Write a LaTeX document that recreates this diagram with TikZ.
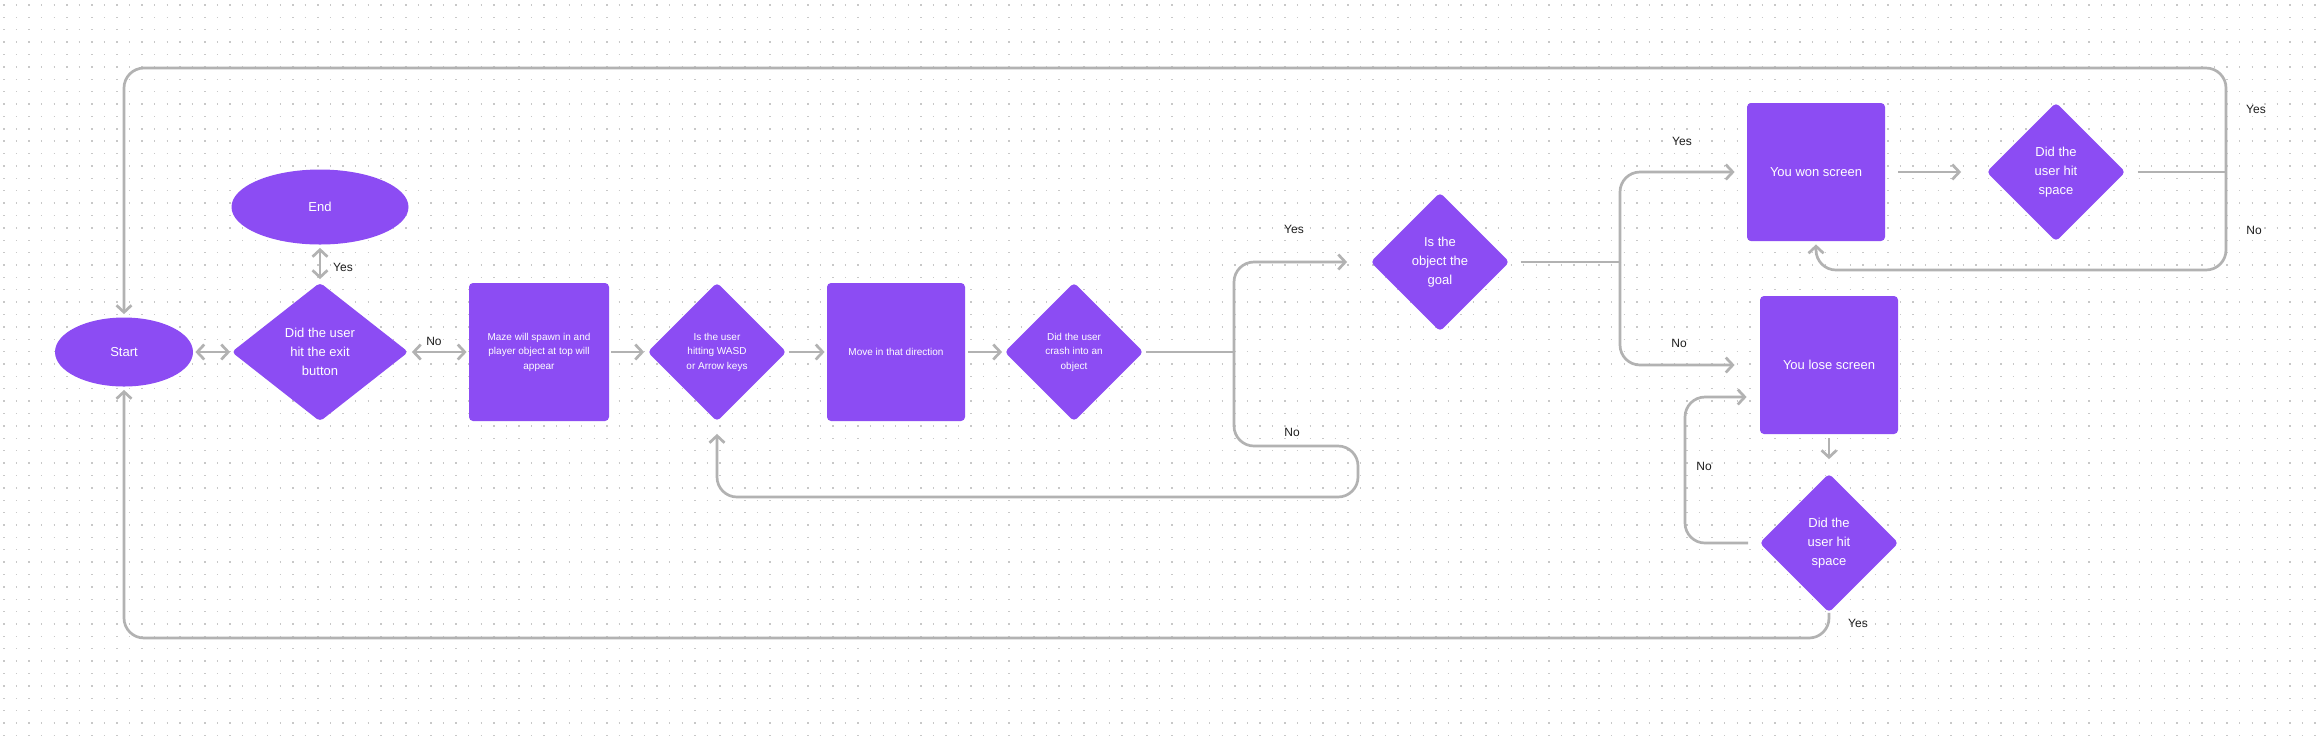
\documentclass[tikz,border=0pt]{standalone}
\usepackage{fontspec}
\setmainfont{Liberation Sans}
\usetikzlibrary{shapes.geometric, arrows.meta}

\definecolor{flowpurple}{RGB}{140,76,243}
\definecolor{flowline}{RGB}{178,178,178}
\definecolor{flowdot}{RGB}{200,200,200}
\definecolor{flowtext}{RGB}{30,30,30}

\begin{document}
\begin{tikzpicture}[x=0.5pt, y=-0.5pt,
        every node/.style={font=\fontsize{6.5}{9.5}\selectfont},
        shapebase/.style={fill=flowpurple, text=white, inner sep=0pt, align=center},
        terminal/.style={shapebase, ellipse},
        process/.style={shapebase, rectangle, rounded corners=2pt, minimum width=69pt, minimum height=69pt},
        decision/.style={shapebase, diamond, rounded corners=2pt, minimum width=69.5pt, minimum height=69.5pt},
        smalltext/.style={font=\fontsize{5}{7.2}\selectfont},
        link/.style={draw=flowline, line width=1.35pt},
        flowarrow/.style={link, -{Straight Barb[length=3.5pt, width=7.5pt]}},
        twoway/.style={link, {Straight Barb[length=3.5pt, width=7.5pt]}-{Straight Barb[length=3.5pt, width=7.5pt]}},
        answer/.style={text=flowtext, inner sep=0pt, font=\fontsize{6}{7}\selectfont}]
        \fill[white] (0, 0) rectangle (2323, 736);
        \useasboundingbox (0, 0) rectangle (2323, 736);
        % dotted canvas
        \foreach \r in {0, ..., 59}
            \draw[flowdot, line width=0.7pt, dash pattern=on 0.7pt off 5.58pt] (3.3, {5 + 12.38*\r}) -- (2323, {5 + 12.38*\r});

        \node[terminal, minimum width=69pt, minimum height=34.5pt] (start) at (124, 352) {Start};
        \node[terminal, minimum width=88.5pt, minimum height=37.5pt] (endn) at (320, 207) {End};
        \node[decision, minimum width=88.5pt] (exitq) at (320, 352) {Did the user\\hit the exit\\button};
        \node[process, smalltext, minimum width=70pt] (maze) at (539, 352) {Maze will spawn in and\\player object at top will\\appear};
        \node[decision, smalltext] (keysq) at (717, 352) {Is the user\\hitting WASD\\or Arrow keys};
        \node[process, smalltext] (move) at (896, 352) {Move in that direction};
        \node[decision, smalltext] (crashq) at (1074, 352) {Did the user\\crash into an\\object};
        \node[decision] (goalq) at (1440, 262) {Is the\\object the\\goal};
        \node[process] (won) at (1816, 172) {You won screen};
        \node[decision] (wonq) at (2056, 172) {Did the\\user hit\\space};
        \node[process] (lose) at (1829, 365) {You lose screen};
        \node[decision] (loseq) at (1829, 543) {Did the\\user hit\\space};

        \coordinate (crashsplit) at (1234, 352);
        \coordinate (crashno) at (1358, 446);
        \coordinate (crashback) at (1358, 497);
        \coordinate (goalsplit) at (1620, 262);
        \coordinate (winsplit) at (2226, 172);
        \coordinate (wintop) at (2226, 68);
        \coordinate (winbottom) at (2226, 270);
        \coordinate (losebend) at (1685, 543);
        \coordinate (loseyes) at (1829, 638);

        % main line
        \draw[twoway, shorten <=1pt, shorten >=0.5pt] (start) -- (exitq);
        \draw[twoway, shorten <=1.5pt, shorten >=1.5pt] (endn) -- (exitq);
        \draw[twoway, shorten <=1.5pt, shorten >=1pt] (exitq) -- (maze);
        \draw[flowarrow, shorten <=1pt, shorten >=1.5pt] (maze) -- (keysq);
        \draw[flowarrow, shorten <=1pt, shorten >=1pt] (keysq) -- (move);
        \draw[flowarrow, shorten <=1.5pt, shorten >=1pt] (move) -- (crashq);

        % crash branch
        \draw[link, shorten <=1pt] (crashq) -- (crashsplit);
        \draw[flowarrow, rounded corners=10pt, shorten >=11.5pt] (crashsplit) |- (goalq);
        \draw[flowarrow, rounded corners=10pt, shorten >=6pt] (crashsplit) |- (crashno) -- (crashback) -| (keysq);

        % goal branch
        \draw[link, shorten <=5.5pt] (goalq) -- (goalsplit);
        \draw[flowarrow, rounded corners=10pt, shorten >=6pt] (goalsplit) |- (won);
        \draw[flowarrow, rounded corners=10pt, shorten >=12.5pt] (goalsplit) |- (lose);

        % won screen
        \draw[flowarrow, shorten <=6.5pt, shorten >=12.5pt] (won) -- (wonq);
        \draw[link, shorten <=6pt] (wonq) -- (winsplit);
        \draw[flowarrow, rounded corners=10pt, shorten >=1.5pt] (winsplit) -- (wintop) -| (start);
        \draw[flowarrow, rounded corners=10pt, shorten >=1.5pt] (winsplit) -- (winbottom) -| (won);

        % lose screen
        \draw[flowarrow, shorten <=2pt, shorten >=7pt] (lose) -- (loseq);
        \draw[flowarrow, rounded corners=10pt, shorten <=5.5pt, shorten >=6.5pt] (loseq) -- (losebend) |- ([yshift=-16pt]lose.west);
        \draw[flowarrow, rounded corners=10pt, shorten >=1.5pt] (loseq) -- (loseyes) -| (start);

        \node[answer] (exityes) at (343, 267) {Yes};
        \node[answer] (exitno) at (434, 341) {No};
        \node[answer] (crashyes) at (1294, 229) {Yes};
        \node[answer] (crashnolabel) at (1292, 432) {No};
        \node[answer] (goalyes) at (1682, 141) {Yes};
        \node[answer] (goalno) at (1679, 343) {No};
        \node[answer] (wonyes) at (2256, 109) {Yes};
        \node[answer] (wonno) at (2254, 230) {No};
        \node[answer] (loseno) at (1704, 466) {No};
        \node[answer] (loseyeslabel) at (1858, 623) {Yes};
\end{tikzpicture}
\end{document}
